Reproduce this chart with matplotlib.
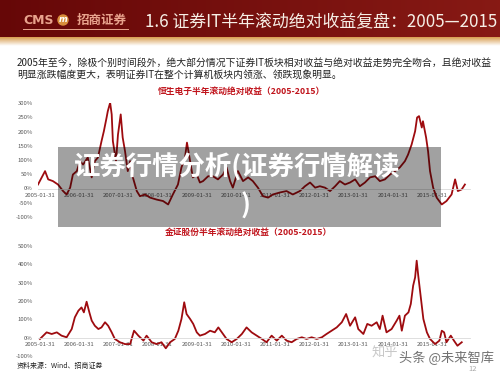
import numpy as np
import matplotlib
matplotlib.use('Agg')
import matplotlib.pyplot as plt
from matplotlib.patches import Rectangle, Circle

plt.rcParams['font.family'] = ['Noto Sans CJK SC', 'DejaVu Sans']

# 恒生电子 半年滚动绝对收益 (%), x 为年份
hs_x = [2005.03, 2005.21, 2005.29, 2005.41, 2005.54, 2005.67, 2005.76, 2005.85, 2005.92, 2006.02,
        2006.10, 2006.18, 2006.30, 2006.40, 2006.48, 2006.56, 2006.65, 2006.71, 2006.78, 2006.81,
        2006.87, 2006.91, 2006.94, 2007.02, 2007.07, 2007.14, 2007.19, 2007.25, 2007.32, 2007.38,
        2007.45, 2007.55, 2007.63, 2007.76, 2007.89, 2008.06, 2008.22, 2008.35, 2008.47, 2008.60,
        2008.69, 2008.78, 2008.83, 2008.91, 2008.98, 2009.08, 2009.16, 2009.24, 2009.37, 2009.49,
        2009.62, 2009.75, 2009.84, 2009.93, 2010.00, 2010.13, 2010.26, 2010.39, 2010.51, 2010.64,
        2010.77, 2010.90, 2011.02, 2011.20, 2011.37, 2011.53, 2011.71, 2011.84, 2011.97, 2012.10,
        2012.22, 2012.35, 2012.48, 2012.61, 2012.73, 2012.86, 2012.99, 2013.12, 2013.24, 2013.37,
        2013.50, 2013.63, 2013.75, 2013.88, 2014.01, 2014.14, 2014.26, 2014.39, 2014.47, 2014.56,
        2014.65, 2014.70, 2014.75, 2014.82, 2014.85, 2014.93, 2014.98, 2015.03, 2015.11, 2015.20,
        2015.33, 2015.45, 2015.58, 2015.67, 2015.74, 2015.84, 2015.92]
hs_y = [14, 61, 32, 26, 14, -9, -21, 3, 49, 61,
        96, 84, 109, 39, 96, 109, 166, 201, 249, 271,
        301, 260, 166, 96, 189, 260, 179, 131, 61, 96,
        39, -9, -27, -21, -32, -39, -44, -56, -21, 14,
        74, 109, 161, 96, 39, 49, 21, 26, 43, 43,
        32, 49, 74, 26, 3, 61, 26, 39, 26, 3,
        -27, -32, -21, -14, -9, -21, -9, 8, 21, 3,
        8, 3, -9, 8, 26, 14, 21, 32, 8, 21,
        39, 43, 26, 32, 49, 61, 74, 96, 119, 154,
        201, 249, 254, 214, 236, 179, 131, 61, 3, -32,
        -56, -44, -21, 32, -9, -3, 14]

# 金证股份 半年滚动绝对收益 (%)
jz_x = [2005.08, 2005.25, 2005.38, 2005.51, 2005.63, 2005.76, 2005.89, 2005.97, 2006.06, 2006.14,
        2006.20, 2006.27, 2006.34, 2006.40, 2006.48, 2006.57, 2006.65, 2006.74, 2006.82, 2006.91,
        2006.99, 2007.12, 2007.25, 2007.38, 2007.48, 2007.59, 2007.72, 2007.80, 2007.93, 2008.06,
        2008.18, 2008.29, 2008.40, 2008.52, 2008.61, 2008.69, 2008.76, 2008.82, 2008.91, 2008.99,
        2009.08, 2009.16, 2009.29, 2009.42, 2009.54, 2009.63, 2009.72, 2009.84, 2009.97, 2010.10,
        2010.23, 2010.35, 2010.48, 2010.61, 2010.74, 2010.86, 2010.99, 2011.12, 2011.25, 2011.37,
        2011.50, 2011.63, 2011.76, 2011.88, 2012.01, 2012.14, 2012.27, 2012.39, 2012.52, 2012.65,
        2012.78, 2012.89, 2012.99, 2013.12, 2013.20, 2013.33, 2013.43, 2013.54, 2013.67, 2013.75,
        2013.82, 2013.92, 2014.05, 2014.18, 2014.25, 2014.31, 2014.39, 2014.48, 2014.54, 2014.60,
        2014.65, 2014.69, 2014.73, 2014.79, 2014.86, 2014.95, 2015.03, 2015.16, 2015.27, 2015.33,
        2015.39, 2015.45, 2015.56, 2015.64, 2015.73, 2015.84]
jz_y = [-7, 29, 20, 29, 11, 2, 47, 111, 147, 165,
        138, 196, 138, 93, 65, 47, 56, 84, 65, 29,
        -7, -25, -35, -35, 38, 11, -16, 11, -25, -35,
        -25, -58, -25, -7, 38, 102, 193, 129, 102, 75,
        29, 11, 20, 38, 29, 56, 29, -7, -25, -7,
        20, 56, 29, 11, -7, -25, 11, -16, 11, -16,
        -25, -7, 2, -7, 2, -7, 2, 20, 38, 56,
        84, 129, 65, 111, 47, 20, 75, 65, 84, 47,
        120, 29, 47, 93, 120, 38, 120, 138, 184, 284,
        329, 420, 338, 229, 102, 29, -7, -35, -16, 38,
        29, -25, 11, -16, -44, -25]

tick_years = list(range(2005, 2016))
tick_labels = ['%d-01-31' % y for y in tick_years]
hs_yticks = [-100, -50, 0, 50, 100, 150, 200, 250, 300]
jz_yticks = [-100, 0, 100, 200, 300, 400, 500]

hs_title = '恒生电子半年滚动绝对收益（2005-2015）'
jz_title = '金证股份半年滚动绝对收益（2005-2015）'
header = '1.6 证券IT半年滚动绝对收益复盘：2005—2015'
body1 = '2005年至今，除极个别时间段外，绝大部分情况下证券IT板块相对收益与绝对收益走势完全吻合，且绝对收益'
body2 = '明显涨跌幅度更大，表明证券IT在整个计算机板块内领涨、领跌现象明显。'
source = '资料来源：Wind、招商证券'
overlay1 = '证券行情分析(证券行情解读'
overlay2 = ')'

W, H = 500, 375
fig = plt.figure(figsize=(5, 3.75), dpi=100)


def box(l, t, r, b):
    return [l / W, 1 - b / H, (r - l) / W, (b - t) / H]


# 背景层：页眉、正文
bg = fig.add_axes([0, 0, 1, 1], zorder=-1)
red = np.array([[0.40, 0.03, 0.03], [0.53, 0.10, 0.08]])
grad = np.linspace(0, 1, 200)[None, :, None]
head_img = red[0] + (red[1] - red[0]) * grad
bg.imshow(head_img, extent=(0, W, 37, 0), aspect='auto')
gold = np.array([0.85, 0.62, 0.32])
fade = np.linspace(0, 1, 20)[:, None, None]
strip = gold + (np.ones(3) - gold) * fade
bg.imshow(np.repeat(strip, 10, axis=1), extent=(0, W, 46, 37), aspect='auto')
bg.set_xlim(0, W)
bg.set_ylim(H, 0)
bg.axis('off')

bg.text(23, 20, 'CMS', color='#e8a38d', fontsize=9, weight='bold',
        family='DejaVu Sans', va='center')
bg.add_patch(Circle((63, 20), 5, color='#d98f3c'))
bg.text(63, 20, 'm', color='white', fontsize=6, weight='bold', style='italic',
        ha='center', va='center', family='DejaVu Sans')
bg.text(77, 20, '招商证券', color='#e8a38d', fontsize=9, va='center', weight='bold')
bg.plot([23, 128], [28.5, 28.5], color='#e8a38d', lw=0.7)
bg.text(145, 22, header, color='#f6efe6', fontsize=12.2, va='center')

bg.text(17, 63, body1, color='#222222', fontsize=7.1, va='center')
bg.text(17, 75, body2, color='#222222', fontsize=7.1, va='center')
bg.text(241, 91, hs_title, color='#c0141c', fontsize=6.3, weight='bold',
        ha='center', va='center')
bg.text(248, 232, jz_title, color='#c0141c', fontsize=6.3, weight='bold',
        ha='center', va='center')
bg.text(17, 366, source, color='#222222', fontsize=5, va='center')


def chart(rect, x, y, ylim, yticks):
    ax = fig.add_axes(box(*rect))
    ax.plot(x, y, color='#9e0b0f', lw=1.3)
    ax.set_xlim(2005.03, 2016.05)
    ax.set_ylim(*ylim)
    ax.set_yticks(yticks)
    ax.set_yticklabels(['%d%%' % v for v in yticks])
    ax.set_xticks([t + 0.08 for t in tick_years])
    ax.set_xticklabels(tick_labels)
    for s in ['top', 'right', 'left']:
        ax.spines[s].set_visible(False)
    ax.spines['bottom'].set_position(('data', 0))
    ax.spines['bottom'].set_color('#d9d9d9')
    ax.spines['bottom'].set_linewidth(0.6)
    ax.tick_params(length=0, labelsize=4.3, colors='#595959')
    ax.tick_params(axis='y', pad=3.6)
    ax.tick_params(axis='x', pad=3)
    ax.patch.set_alpha(0)
    return ax


chart((38, 103, 470, 217), hs_x, hs_y, (-100, 300), hs_yticks)
chart((38, 246, 470, 356), jz_x, jz_y, (-100, 500), jz_yticks)

# 顶层：灰色遮罩和水印
ov = fig.add_axes([0, 0, 1, 1], zorder=10)
ov.set_xlim(0, W)
ov.set_ylim(H, 0)
ov.axis('off')
ov.patch.set_alpha(0)
ov.add_patch(Rectangle((58, 147), 383, 80, color='black', alpha=0.37, lw=0))
ov.text(237, 168, overlay1, color='white', fontsize=19, weight='bold',
        ha='center', va='center')
ov.text(246, 206, overlay2, color='white', fontsize=19, weight='bold',
        ha='center', va='center')
ov.text(372, 353, '知乎', color='#c8c8c8', fontsize=9.5, va='center')
ov.text(399, 358, '头条 @未来智库', color='#5a5a5a', fontsize=9.5, va='center', alpha=0.85)
ov.text(473, 369, '12', color='#aaaaaa', fontsize=5.5, ha='center', va='center')

fig.savefig('out.png', dpi=100)
